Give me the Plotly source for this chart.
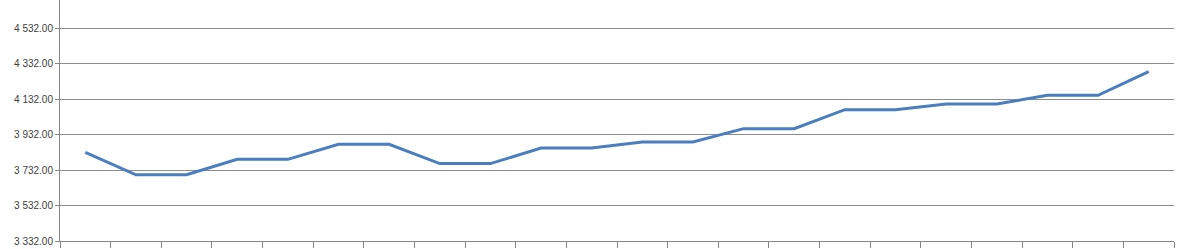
import plotly.graph_objects as go

categories = [str(i) for i in range(1, 23)]
values = [3832, 3705, 3705, 3792, 3792, 3877, 3877, 3768, 3768, 3856, 3856,
          3890, 3890, 3965, 3965, 4072, 4071, 4104, 4104, 4153, 4153, 4286]
tick_vals = [3332, 3532, 3732, 3932, 4132, 4332, 4532]
tick_text = ["3 332.00", "3 532.00", "3 732.00", "3 932.00", "4 132.00", "4 332.00", "4 532.00"]

fig = go.Figure()
fig.add_trace(go.Scatter(x=categories, y=values, mode="lines",
                         line=dict(color="#4A7EBF", width=3), hoverinfo="skip"))

fig.update_layout(
    width=1198, height=249,
    margin=dict(l=60, r=24, t=0, b=8),
    paper_bgcolor="white", plot_bgcolor="white",
    showlegend=False,
    font=dict(family="Liberation Sans, Arial, sans-serif", size=10, color="#404040"),
)
fig.update_xaxes(type="category", range=[-0.5, 21.5], showticklabels=False,
                 ticks="outside", ticklen=6, tickcolor="#868686", tickson="boundaries",
                 showline=True, linecolor="#868686", linewidth=1,
                 showgrid=False, zeroline=False)
fig.update_yaxes(range=[3332, 4690], tickvals=tick_vals, ticktext=tick_text,
                 ticks="outside", ticklen=4, tickcolor="#868686",
                 showline=True, linecolor="#868686", linewidth=1,
                 showgrid=True, gridcolor="#8C8C8C", gridwidth=1, zeroline=False)

fig.write_html("out.html")
